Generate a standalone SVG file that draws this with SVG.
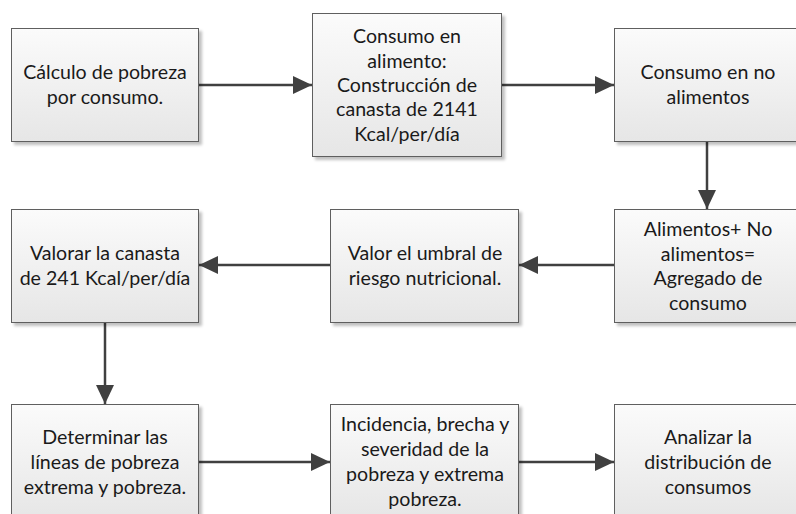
<svg xmlns="http://www.w3.org/2000/svg" width="796" height="514" viewBox="0 0 796 514">
<defs>
<linearGradient id="g" x1="0" y1="0" x2="0" y2="1">
<stop offset="0" stop-color="#fbfbfb"/>
<stop offset="1" stop-color="#e6e6e6"/>
</linearGradient>
<filter id="sh" x="-10%" y="-10%" width="125%" height="125%">
<feGaussianBlur in="SourceAlpha" stdDeviation="1.5"/>
<feOffset dx="3" dy="3" result="b"/>
<feComponentTransfer><feFuncA type="linear" slope="0.25"/></feComponentTransfer>
<feMerge><feMergeNode/><feMergeNode in="SourceGraphic"/></feMerge>
</filter>
<marker id="ah" markerWidth="19" markerHeight="18" refX="19" refY="9" orient="auto" markerUnits="userSpaceOnUse">
<path d="M0,0 L19,9 L0,18 Z" fill="#404040"/>
</marker>
</defs>
<style>
.box{fill:url(#g);stroke:#5f5f5f;stroke-width:1;filter:url(#sh)}
.t{font-family:Lato,"Open Sans","Liberation Sans",sans-serif;font-size:19.6px;fill:#1a1a1a;text-anchor:middle}
.c{fill:none;stroke:#404040;stroke-width:2.5;marker-end:url(#ah)}
</style>
<rect width="796" height="514" fill="#ffffff"/>
<g id="connectors">
<line class="c" x1="199" y1="85" x2="312" y2="85"/>
<line class="c" x1="502" y1="85" x2="614" y2="85"/>
<line class="c" x1="707" y1="141" x2="707" y2="209"/>
<line class="c" x1="614" y1="265" x2="519" y2="265"/>
<line class="c" x1="330" y1="265" x2="199" y2="265"/>
<line class="c" x1="105" y1="322" x2="105" y2="404"/>
<line class="c" x1="199" y1="462" x2="330" y2="462"/>
<line class="c" x1="519" y1="462" x2="614" y2="462"/>
</g>
<g id="n1">
<rect class="box" x="11.5" y="28.5" width="187" height="113"/>
<text class="t" x="105" y="79.3">Cálculo de pobreza</text>
<text class="t" x="105" y="103.7">por consumo.</text>
</g>
<g id="n2">
<rect class="box" x="312.5" y="13.5" width="189" height="143"/>
<text class="t" x="407" y="43.2">Consumo en</text>
<text class="t" x="407" y="67.6">alimento:</text>
<text class="t" x="407" y="92">Construcción de</text>
<text class="t" x="407" y="116.4">canasta de 2141</text>
<text class="t" x="407" y="140.8">Kcal/per/día</text>
</g>
<g id="n3">
<rect class="box" x="614.5" y="28.5" width="188" height="113"/>
<text class="t" x="708" y="79.3">Consumo en no</text>
<text class="t" x="708" y="103.7">alimentos</text>
</g>
<g id="n4">
<rect class="box" x="614.5" y="209.5" width="188" height="113"/>
<text class="t" x="708" y="236.4">Alimentos+ No</text>
<text class="t" x="708" y="260.8">alimentos=</text>
<text class="t" x="708" y="285.2">Agregado de</text>
<text class="t" x="708" y="309.6">consumo</text>
</g>
<g id="n5">
<rect class="box" x="330.5" y="209.5" width="188" height="113"/>
<text class="t" x="425" y="260.3">Valor el umbral de</text>
<text class="t" x="425" y="284.7">riesgo nutricional.</text>
</g>
<g id="n6">
<rect class="box" x="11.5" y="209.5" width="187" height="113"/>
<text class="t" x="105" y="260.3">Valorar la canasta</text>
<text class="t" x="105" y="284.7">de 241 Kcal/per/día</text>
</g>
<g id="n7">
<rect class="box" x="11.5" y="404.5" width="187" height="114"/>
<text class="t" x="105" y="443.5">Determinar las</text>
<text class="t" x="105" y="468.5">líneas de pobreza</text>
<text class="t" x="105" y="493.5">extrema y pobreza.</text>
</g>
<g id="n8">
<rect class="box" x="330.5" y="404.5" width="188" height="114"/>
<text class="t" x="425" y="431">Incidencia, brecha y</text>
<text class="t" x="425" y="456">severidad de la</text>
<text class="t" x="425" y="481">pobreza y extrema</text>
<text class="t" x="425" y="506">pobreza.</text>
</g>
<g id="n9">
<rect class="box" x="614.5" y="404.5" width="188" height="114"/>
<text class="t" x="708" y="443.5">Analizar la</text>
<text class="t" x="708" y="468.5">distribución de</text>
<text class="t" x="708" y="493.5">consumos</text>
</g>
</svg>
